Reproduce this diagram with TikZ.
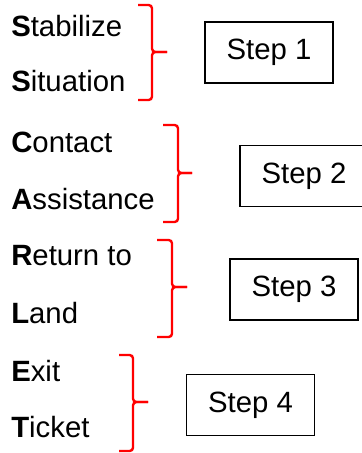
\documentclass[tikz,border=0pt]{standalone}
\usepackage{fontspec}
\setmainfont{Liberation Sans}
\usetikzlibrary{positioning}

\tikzset{
    word/.style={
        anchor=base west, inner sep=0pt,
        font=\fontsize{22}{26}\selectfont,
    },
    stepbox/.style={
        rectangle, draw=black, line width=1.1pt,
        minimum width=96pt, minimum height=45.75pt,
        font=\fontsize{22}{26}\selectfont,
    },
    redbrace/.style={
        draw=red, line width=1.8pt, rounded corners=2.5pt,
    },
}

\begin{document}
\begin{tikzpicture}[x=0.75pt, y=-0.75pt]
        \useasboundingbox (0,0) rectangle (361,453);

        % S - S
        \node (stabilize) at(11,37) [word] {\textbf{S}tabilize};
        \node (situation) at(11,92) [word] {\textbf{S}ituation};
        \draw[redbrace] (138,5) -- (152,5) -- (152,52) -- (167,52);
        \draw[redbrace] (167,52) -- (152,52) -- (152,100) -- (138,100);
        \node (step1) at(269,52.5) [stepbox] {Step 1};

        % C - A
        \node (contact) at(11,152) [word] {\textbf{C}ontact};
        \node (assistance) at(11,209) [word] {\textbf{A}ssistance};
        \draw[redbrace] (163,125) -- (178,125) -- (178,173) -- (192,173);
        \draw[redbrace] (192,173) -- (178,173) -- (178,222) -- (163,222);
        \node (step2) at(304,176) [stepbox] {Step 2};

        % R - L
        \node (returnto) at(11,265) [word] {\textbf{R}eturn to};
        \node (land) at(11,323) [word] {\textbf{L}and};
        \draw[redbrace] (157,240) -- (172,240) -- (172,287) -- (187,287);
        \draw[redbrace] (187,287) -- (172,287) -- (172,337) -- (157,337);
        \node (step3) at(294,289.5) [stepbox] {Step 3};

        % E - T
        \node (exit) at(11,381) [word] {\textbf{E}xit};
        \node (ticket) at(11,437) [word] {\textbf{T}icket};
        \draw[redbrace] (119,355) -- (133,355) -- (133,402) -- (148,402);
        \draw[redbrace] (148,402) -- (133,402) -- (133,451) -- (119,451);
        \node (step4) at(250.5,405) [stepbox] {Step 4};
\end{tikzpicture}
\end{document}
